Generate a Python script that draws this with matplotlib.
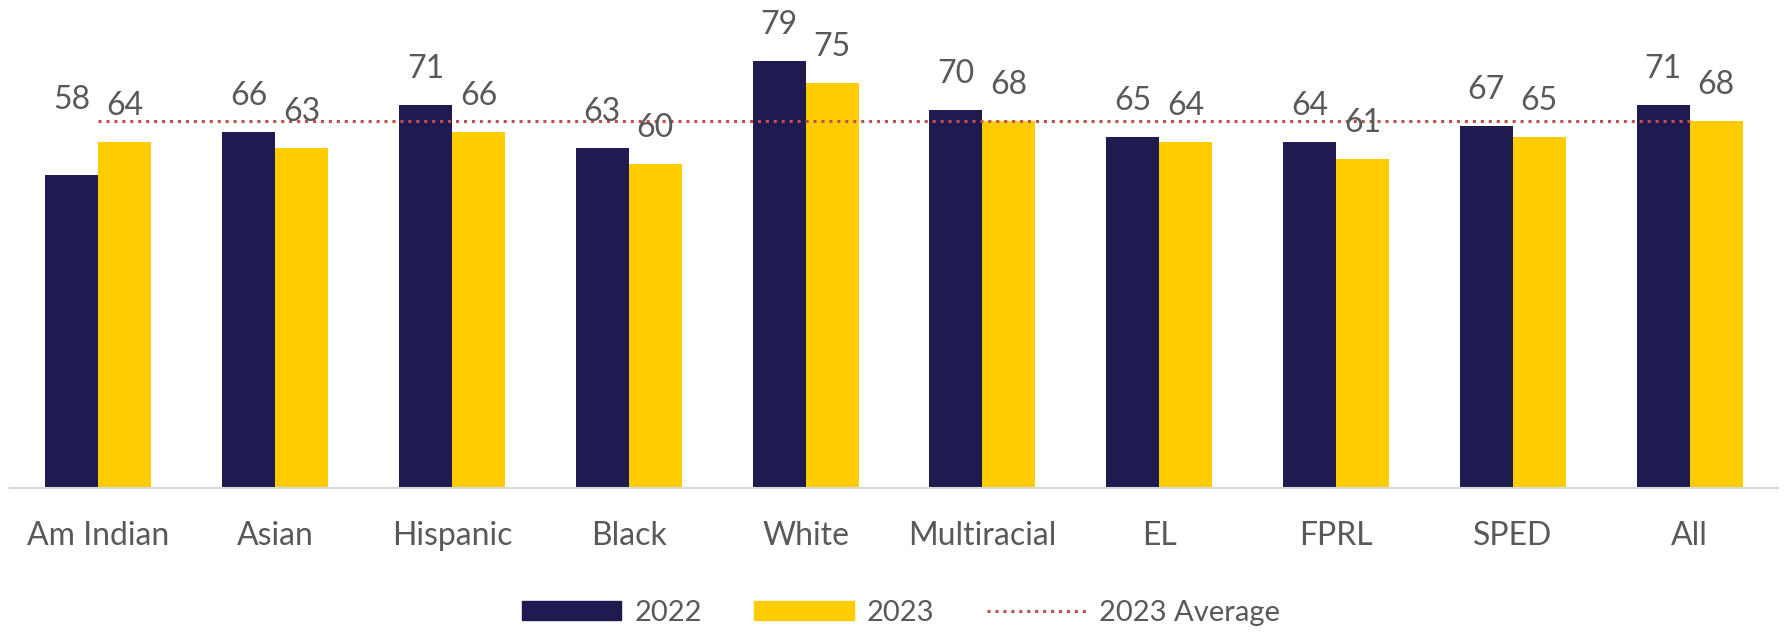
import matplotlib
matplotlib.use("Agg")
import matplotlib.pyplot as plt
from matplotlib.lines import Line2D
from matplotlib.patches import Patch
import numpy as np

# Data
categories = ["Am Indian", "Asian", "Hispanic", "Black", "White",
              "Multiracial", "EL", "FPRL", "SPED", "All"]
values_2022 = [58, 66, 71, 63, 79, 70, 65, 64, 67, 71]
values_2023 = [64, 63, 66, 60, 75, 68, 64, 61, 65, 68]
average_2023 = 68
series_labels = ["2022", "2023", "2023 Average"]

# Style
NAVY = "#1F1A4F"
GOLD = "#FFCC00"
RED = "#C0504D"
TEXT = "#595959"
AXIS = "#D9D9D9"
DOTS = (0, (1, 1.6))

plt.rcParams["font.family"] = ["Lato", "DejaVu Sans"]

W, H = 1785, 632
fig = plt.figure(figsize=(W / 100, H / 100), dpi=100)
ax = fig.add_axes([10 / W, 144 / H, 1768 / W, 486 / H])

x = np.arange(len(categories))
w = 0.30
ax.bar(x - w / 2, values_2022, w, color=NAVY, zorder=2)
ax.bar(x + w / 2, values_2023, w, color=GOLD, zorder=2)
ax.plot(x, [average_2023] * len(x), color=RED, lw=2.2, linestyle=DOTS,
        dash_capstyle="butt", zorder=3)

# value labels above each bar (offset in pixels from the bar top)
lift_px = {(0, 0): 66}
for s, (vals, dx) in enumerate([(values_2022, -w / 2), (values_2023, w / 2)]):
    for i, v in enumerate(vals):
        off = lift_px.get((s, i), 27) * 0.72
        ax.annotate(str(v), (x[i] + dx, v), xytext=(0, off),
                    textcoords="offset points", ha="center", va="baseline",
                    fontsize=23, color=TEXT, zorder=4)

ax.set_xlim(-0.5, len(categories) - 0.5)
ax.set_ylim(0, 90)
ax.set_xticks(x, categories)
ax.tick_params(axis="x", length=0, pad=24, labelsize=23, labelcolor=TEXT)
ax.set_yticks([])
for side in ("top", "right", "left"):
    ax.spines[side].set_visible(False)
ax.spines["bottom"].set_color(AXIS)
ax.spines["bottom"].set_linewidth(1.5)

handles = [Patch(color=NAVY), Patch(color=GOLD),
           Line2D([], [], color=RED, lw=2.2, linestyle=DOTS, dash_capstyle="butt")]
fig.legend(handles, series_labels, loc="center", bbox_to_anchor=(901 / W, 19 / H),
           ncol=3, frameon=False, fontsize=21, handlelength=3.4, handleheight=0.6,
           handletextpad=0.45, columnspacing=1.8, borderpad=0, labelcolor=TEXT)

fig.savefig("out.png", dpi=100)
